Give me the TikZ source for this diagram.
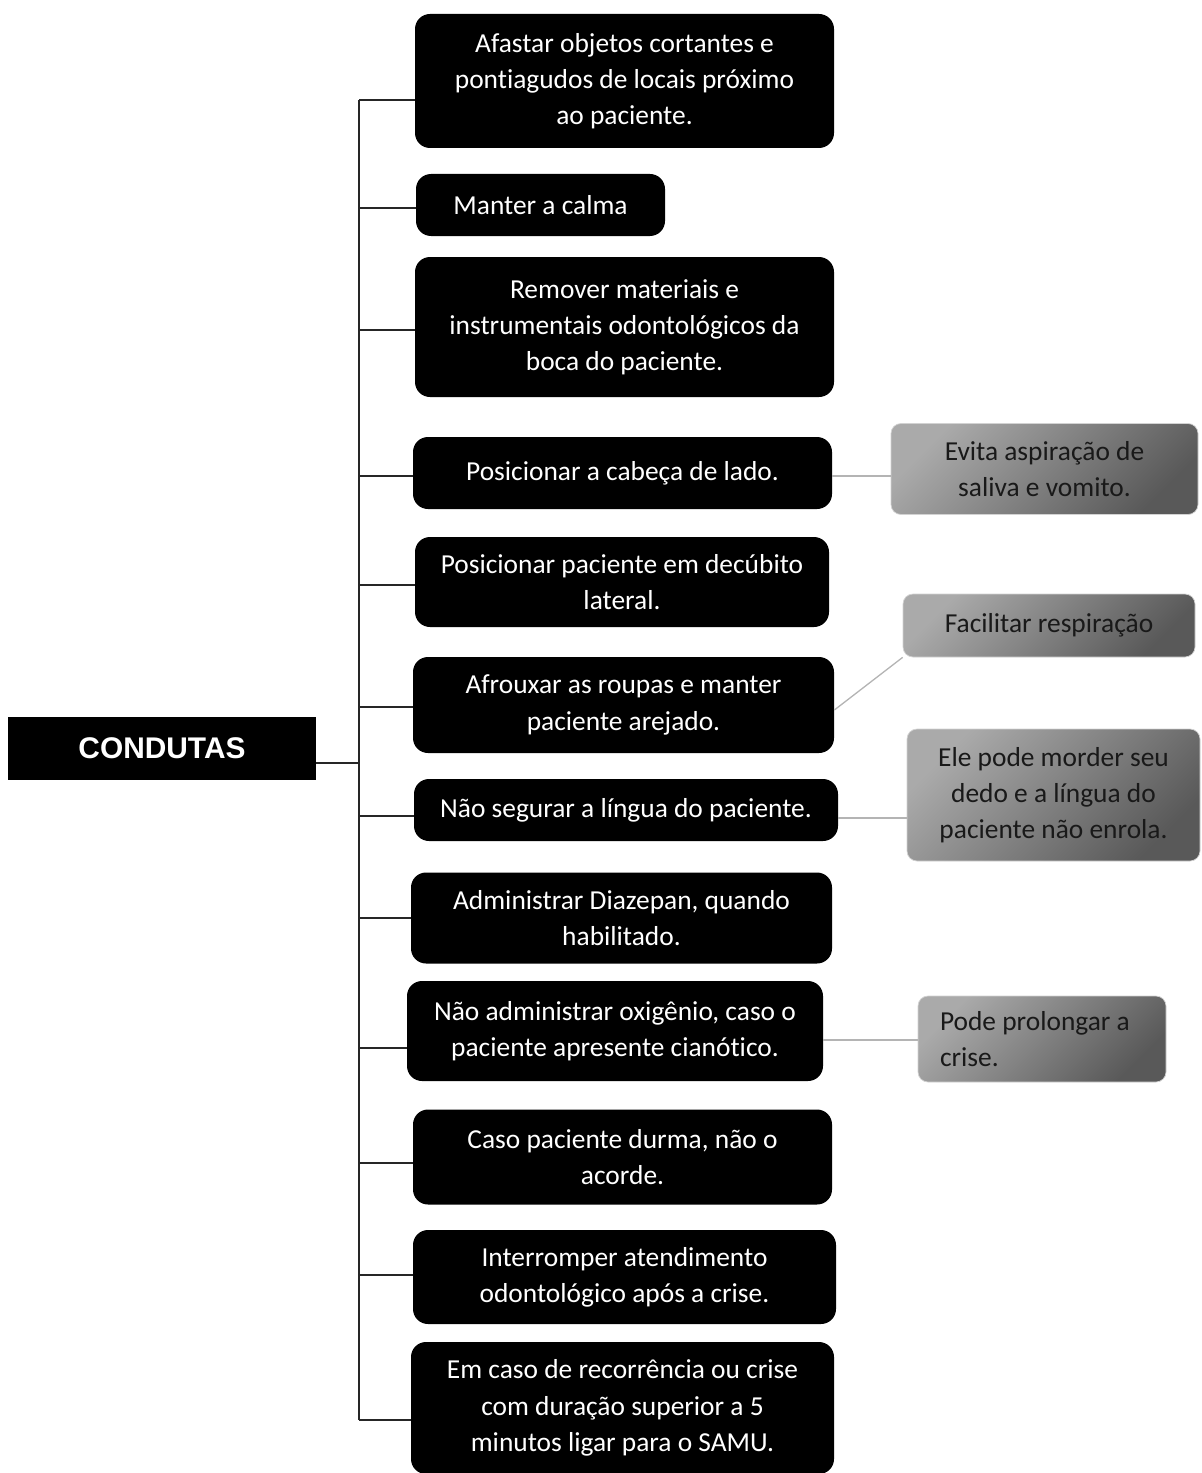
\documentclass[tikz,border=0pt]{standalone}
\usepackage{fontspec}
\setmainfont{Carlito}[Ligatures=NoCommon]
\newfontfamily\headfont{Liberation Sans}
\definecolor{noteLight}{HTML}{AAAAAA}
\definecolor{noteDark}{HTML}{595959}
\definecolor{noteLine}{HTML}{B4B4B4}
\newcommand{\px}{0.02cm}

\begin{document}
\begin{tikzpicture}[x=\px, y=-\px,
    wh/.style 2 args={minimum width=#1*\px, minimum height=#2*\px},
    head/.style={fill=black, text=white, inner sep=0pt, font=\headfont\bfseries\fontsize{17}{20}\selectfont},
    box/.style={fill=black, text=white, rounded corners=0.3cm, align=center, inner sep=0pt, font=\fontsize{15.6}{20.6}\selectfont},
    note/.style={draw=noteLine!60, shading=axis, top color=noteLight, bottom color=noteDark, shading angle=45, rounded corners=0.2cm, align=center, inner sep=0pt, text=black!90, font=\fontsize{15.6}{20.6}\selectfont},
    trunk/.style={draw=black!85, line width=0.85pt},
    twig/.style={draw=noteLine, line width=0.75pt}]
    \useasboundingbox (0,0) rectangle (1201,1473);

    % Root
    \node[head, wh={308}{63}] (root) at (162,748.5) {CONDUTAS};

    % Steps
    \node[box, wh={419}{134}] (c1) at (624.5,81) {Afastar objetos cortantes e\\pontiagudos de locais próximo\\ao paciente.};
    \node[box, wh={249}{62}] (c2) at (540.5,205) {Manter a calma};
    \node[box, wh={419}{140}] (c3) at (624.5,327) {Remover materiais e\\instrumentais odontológicos da\\boca do paciente.};
    \node[box, wh={419}{72}] (c4) at (622.5,473) {Posicionar a cabeça de lado.};
    \node[box, wh={414}{90}] (c5) at (622,582) {Posicionar paciente em decúbito\\lateral.};
    \node[box, wh={421}{96}] (c6) at (623.5,705) {Afrouxar as roupas e manter\\paciente arejado.};
    \node[box, wh={424}{62}] (c7) at (626,810) {Não segurar a língua do paciente.};
    \node[box, wh={421}{91}] (c8) at (621.5,918) {Administrar Diazepan, quando\\habilitado.};
    \node[box, wh={416}{100}] (c9) at (615,1031) {Não administrar oxigênio, caso o\\paciente apresente cianótico.};
    \node[box, wh={419}{95}] (c10) at (622.5,1157) {Caso paciente durma, não o\\acorde.};
    \node[box, wh={423}{94}] (c11) at (624.5,1277) {Interromper atendimento\\odontológico após a crise.};
    \node[box, wh={423}{132}] (c12) at (622.5,1408) {Em caso de recorrência ou crise\\com duração superior a 5\\minutos ligar para o SAMU.};

    % Notes
    \node[note, wh={307}{91}] (nA) at (1044.5,469) {Evita aspiração de\\saliva e vomito.};
    \node[note, wh={292}{63}] (nB) at (1049,625.5) {Facilitar respiração};
    \node[note, wh={293}{132}] (nC) at (1053.5,795) {Ele pode morder seu\\dedo e a língua do\\paciente não enrola.};
    \node[note, wh={248}{86}, align=flush left, text width=4.08cm] (nD) at (1042,1039) {Pode prolongar a\\crise.};

    % Trunk
    \coordinate (t0) at (359,763);
    \coordinate (t1) at (359,100);
    \coordinate (t2) at (359,208);
    \coordinate (t3) at (359,330);
    \coordinate (t4) at (359,476);
    \coordinate (t5) at (359,585);
    \coordinate (t6) at (359,707);
    \coordinate (t7) at (359,816);
    \coordinate (t8) at (359,918);
    \coordinate (t9) at (359,1048);
    \coordinate (t10) at (359,1163);
    \coordinate (t11) at (359,1275);
    \coordinate (t12) at (359,1420);
    \draw[trunk] (t1) -- (t12);
    \draw[trunk] (root.east |- t0) -- (t0);
    \draw[trunk] (t1) -- (t1 -| c1.west);
    \draw[trunk] (t2) -- (t2 -| c2.west);
    \draw[trunk] (t3) -- (t3 -| c3.west);
    \draw[trunk] (t4) -- (t4 -| c4.west);
    \draw[trunk] (t5) -- (t5 -| c5.west);
    \draw[trunk] (t6) -- (t6 -| c6.west);
    \draw[trunk] (t7) -- (t7 -| c7.west);
    \draw[trunk] (t8) -- (t8 -| c8.west);
    \draw[trunk] (t9) -- (t9 -| c9.west);
    \draw[trunk] (t10) -- (t10 -| c10.west);
    \draw[trunk] (t11) -- (t11 -| c11.west);
    \draw[trunk] (t12) -- (t12 -| c12.west);

    % Notes links
    \draw[twig] ([yshift=-3*\px]c4.east) -- ([yshift=-3*\px]c4.east -| nA.west);
    \draw[twig] ([yshift=-5*\px]c6.east) -- (nB.south west);
    \draw[twig] ([yshift=-8*\px]c7.east) -- ([yshift=-8*\px]c7.east -| nC.west);
    \draw[twig] ([yshift=-9*\px]c9.east) -- ([yshift=-9*\px]c9.east -| nD.west);

\end{tikzpicture}
\end{document}
